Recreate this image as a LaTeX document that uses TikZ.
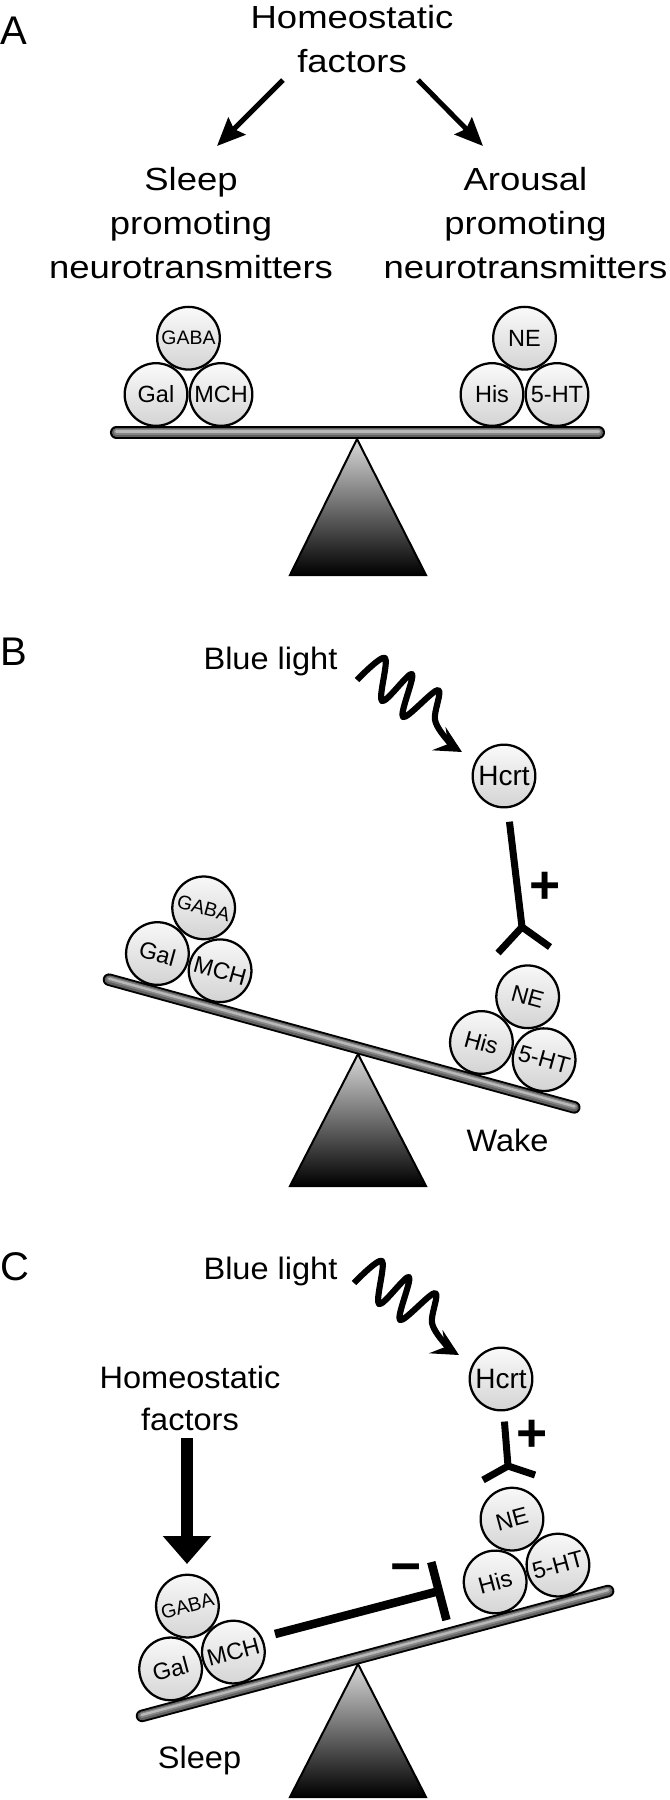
\documentclass[tikz,border=0pt]{standalone}
\usepackage{fontspec}
\setmainfont{Liberation Sans}
\usetikzlibrary{arrows.meta,calc}
\tikzset{
  beamA/.style={line width=9.4pt, line cap=round, draw=black},
  beamB/.style={line width=6.6pt, line cap=round, draw=black!62},
  beamC/.style={line width=4pt, line cap=round, draw=black!48},
  beamD/.style={line width=1.8pt, line cap=round, draw=black!28},
  ball/.style={circle, draw=black, line width=1.7pt, minimum size=47pt, inner sep=0pt,
    top color=black!2, bottom color=black!17, font=\fontsize{17.6pt}{18pt}\selectfont, transform shape},
  smallball/.style={font=\fontsize{14.6pt}{15pt}\selectfont},
  hcrtball/.style={font=\fontsize{21pt}{21pt}\selectfont},
  bigtxt/.style={font=\fontsize{24pt}{33pt}\selectfont, align=center, xscale=1.14, anchor=base, inner sep=0pt},
  midtxt/.style={font=\fontsize{23.25pt}{31.5pt}\selectfont, align=center, xscale=1.05, anchor=base, inner sep=0pt},
  panel/.style={font=\fontsize{30pt}{30pt}\selectfont, anchor=base west, inner sep=0pt},
  signtxt/.style={font=\fontsize{40pt}{40pt}\selectfont\bfseries, anchor=center, inner sep=0pt},
  fulcrum/.style={draw=black, line width=1.5pt, top color=black!15, bottom color=black, line join=miter},
  thinarr/.style={line width=3.75pt, -{Stealth[length=21pt, width=18pt, inset=3pt]}},
  wavearr/.style={line width=4.6pt, line join=round, -{Stealth[length=20pt, width=20pt, inset=8pt]}},
  actline/.style={line width=5.25pt, line join=miter},
  inhline/.style={line width=6.4pt, -{Bar[width=45pt]}},
  bigarr/.style={line width=9pt, -{Triangle[length=21pt, width=35pt]}},
}
\begin{document}
\begin{tikzpicture}[x=0.75pt, y=-0.75pt]
\fill[white] (0,0) rectangle (669,1800);
\useasboundingbox (0,0) rectangle (669,1800);

% ================= Panel A =================
\node[panel] (labA) at (0,44) {A};
\node[bigtxt] (homA) at (352,72) {Homeostatic\\factors};
\node[bigtxt] (sleepA) at (191,278) {Sleep\\promoting\\neurotransmitters};
\node[bigtxt] (arouA) at (525.5,278) {Arousal\\promoting\\neurotransmitters};
\coordinate (a1s) at (283,80);
\coordinate (a1e) at (217,146);
\coordinate (a2s) at (418,80);
\coordinate (a2e) at (483,146);
\draw[thinarr] (a1s) -- (a1e);
\draw[thinarr] (a2s) -- (a2e);

\path[fulcrum] (357,439) -- (426,575) -- (290,575) -- cycle;
\begin{scope}[shift={(110,432.5)}]
  \draw[beamA] (6.25,0) -- (488.75,0);
  \draw[beamB] (6.25,0) -- (488.75,0);
  \draw[beamC] (6.25,-0.6) -- (488.75,-0.6);
  \draw[beamD] (6.25,-1) -- (488.75,-1);
  \node[ball] (galA) at (46,-38) {Gal};
  \node[ball] (mchA) at (111,-38) {MCH};
  \node[ball, smallball] (gabaA) at (78.5,-94.3) {GABA};
  \node[ball] (hisA) at (382,-38) {His};
  \node[ball] (htA) at (447,-38) {5-HT};
  \node[ball] (neA) at (414.5,-94.3) {NE};
\end{scope}

% ================= Panel B =================
\node[panel] (labB) at (0,665) {B};
\node[midtxt] (blueB) at (270.5,669) {Blue light};
\node[midtxt] (wakeB) at (507.5,1151) {Wake};
\node[ball, hcrtball] (hcrtB) at (504,776) {Hcrt};
\coordinate (wsB) at (357,680);
\coordinate (weB) at (462,752);
\begin{scope}[shift={(wsB)}]
  \draw[wavearr] plot[smooth, tension=0.55] coordinates {(0,0) (28,-22) (25,21) (55,-6) (46,37) (81,10) (78,40) (92,62) (105,72)};
\end{scope}
\coordinate (forkB) at (522,927);
\coordinate (armLB) at (498,953);
\coordinate (armRB) at (550,947);
\draw[actline] ($(hcrtB)!34.5pt!(forkB)$) -- (forkB);
\draw[actline] (armLB) -- (forkB) -- (armRB);
\node[signtxt] (plusB) at (545,888) {+};

\path[fulcrum] (358,1054) -- (426,1186) -- (290,1186) -- cycle;
\begin{scope}[shift={(103,978)}, rotate=-15.35]
  \draw[beamA] (6.25,0) -- (488.75,0);
  \draw[beamB] (6.25,0) -- (488.75,0);
  \draw[beamC] (6.25,-0.6) -- (488.75,-0.6);
  \draw[beamD] (6.25,-1) -- (488.75,-1);
  \node[ball] (galB) at (46,-38) {Gal};
  \node[ball] (mchB) at (111,-38) {MCH};
  \node[ball, smallball] (gabaB) at (78.5,-94.3) {GABA};
  \node[ball] (hisB) at (382,-38) {His};
  \node[ball] (htB) at (447,-38) {5-HT};
  \node[ball] (neB) at (414.5,-94.3) {NE};
\end{scope}

% ================= Panel C =================
\node[panel] (labC) at (0,1280) {C};
\node[midtxt] (blueC) at (270.5,1279) {Blue light};
\node[midtxt] (homC) at (190,1430) {Homeostatic\\factors};
\node[midtxt] (sleepC) at (199.5,1768) {Sleep};
\node[ball, hcrtball] (hcrtC) at (501,1379) {Hcrt};
\coordinate (wsC) at (354,1283);
\coordinate (weC) at (459,1355);
\begin{scope}[shift={(wsC)}]
  \draw[wavearr] plot[smooth, tension=0.55] coordinates {(0,0) (28,-22) (25,21) (55,-6) (46,37) (81,10) (78,40) (92,62) (105,72)};
\end{scope}
\coordinate (forkC) at (508,1466);
\coordinate (armLC) at (483,1480);
\coordinate (armRC) at (535,1475);
\draw[actline] ($(hcrtC)!32pt!(forkC)$) -- (forkC);
\draw[actline] (armLC) -- (forkC) -- (armRC);
\node[signtxt] (plusC) at (532,1436) {+};

\path[fulcrum] (358,1664) -- (426,1797) -- (290,1797) -- cycle;
\begin{scope}[shift={(136,1717.5)}, rotate=15]
  \draw[beamA] (6.25,0) -- (488.75,0);
  \draw[beamB] (6.25,0) -- (488.75,0);
  \draw[beamC] (6.25,-0.6) -- (488.75,-0.6);
  \draw[beamD] (6.25,-1) -- (488.75,-1);
  \node[ball] (galC) at (46,-38) {Gal};
  \node[ball] (mchC) at (111,-38) {MCH};
  \node[ball, smallball] (gabaC) at (78.5,-94.3) {GABA};
  \node[ball] (hisC) at (382,-38) {His};
  \node[ball] (htC) at (447,-38) {5-HT};
  \node[ball] (neC) at (414.5,-94.3) {NE};
\end{scope}

\coordinate (bigS) at (187,1438);
\coordinate (bigE) at (187,1564);
\draw[bigarr] (bigS) -- (bigE);
\coordinate (inhS) at (275,1634);
\coordinate (inhE) at (443,1590);
\draw[inhline] (inhS) -- (inhE);
\node[signtxt] (minusC) at (406,1574) {−};
\end{tikzpicture}
\end{document}
